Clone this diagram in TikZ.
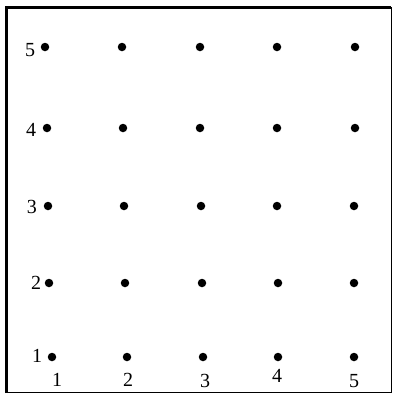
\documentclass[tikz,border=0pt]{standalone}
\usepackage{fontspec}
\setmainfont{Liberation Serif}
\begin{document}
\begin{tikzpicture}[x=1pt,y=-1pt,
  dot/.style={circle,fill=black,inner sep=0pt,minimum size=8.5pt},
  lab/.style={inner sep=0pt,font=\fontsize{20}{22}\selectfont}]
\useasboundingbox (0,0) rectangle (394,394);
\fill[white] (0,0) rectangle (394,394);
\draw[line width=1pt] (7,7.5) rectangle (391.5,392.5);
\draw[line width=3pt] (6.5,393) -- (6.5,7) -- (391,7);
% dots: rows from top (5) to bottom (1)
\foreach \r/\y/\xa/\xb/\xc/\xd/\xe in {5/47/45/122/200/277/355, 4/128/47/123/200/277/355, 3/206/48/124/201/277/354, 2/283/49/125/202/278/354, 1/357/52/127/203/278/354}{
  \node[dot] (d1\r) at (\xa,\y) {};
  \node[dot] (d2\r) at (\xb,\y) {};
  \node[dot] (d3\r) at (\xc,\y) {};
  \node[dot] (d4\r) at (\xd,\y) {};
  \node[dot] (d5\r) at (\xe,\y) {};
}
\node[lab] (l5) at (30,50) {5};
\node[lab] (l4) at (31,130) {4};
\node[lab] (l3) at (32,207) {3};
\node[lab] (l2) at (36,283) {2};
\node[lab] (l1) at (37,356) {1};
\node[lab] (b1) at (57,380) {1};
\node[lab] (b2) at (128,380) {2};
\node[lab] (b3) at (205,381) {3};
\node[lab] (b4) at (277,376) {4};
\node[lab] (b5) at (354,381) {5};
\end{tikzpicture}
\end{document}
